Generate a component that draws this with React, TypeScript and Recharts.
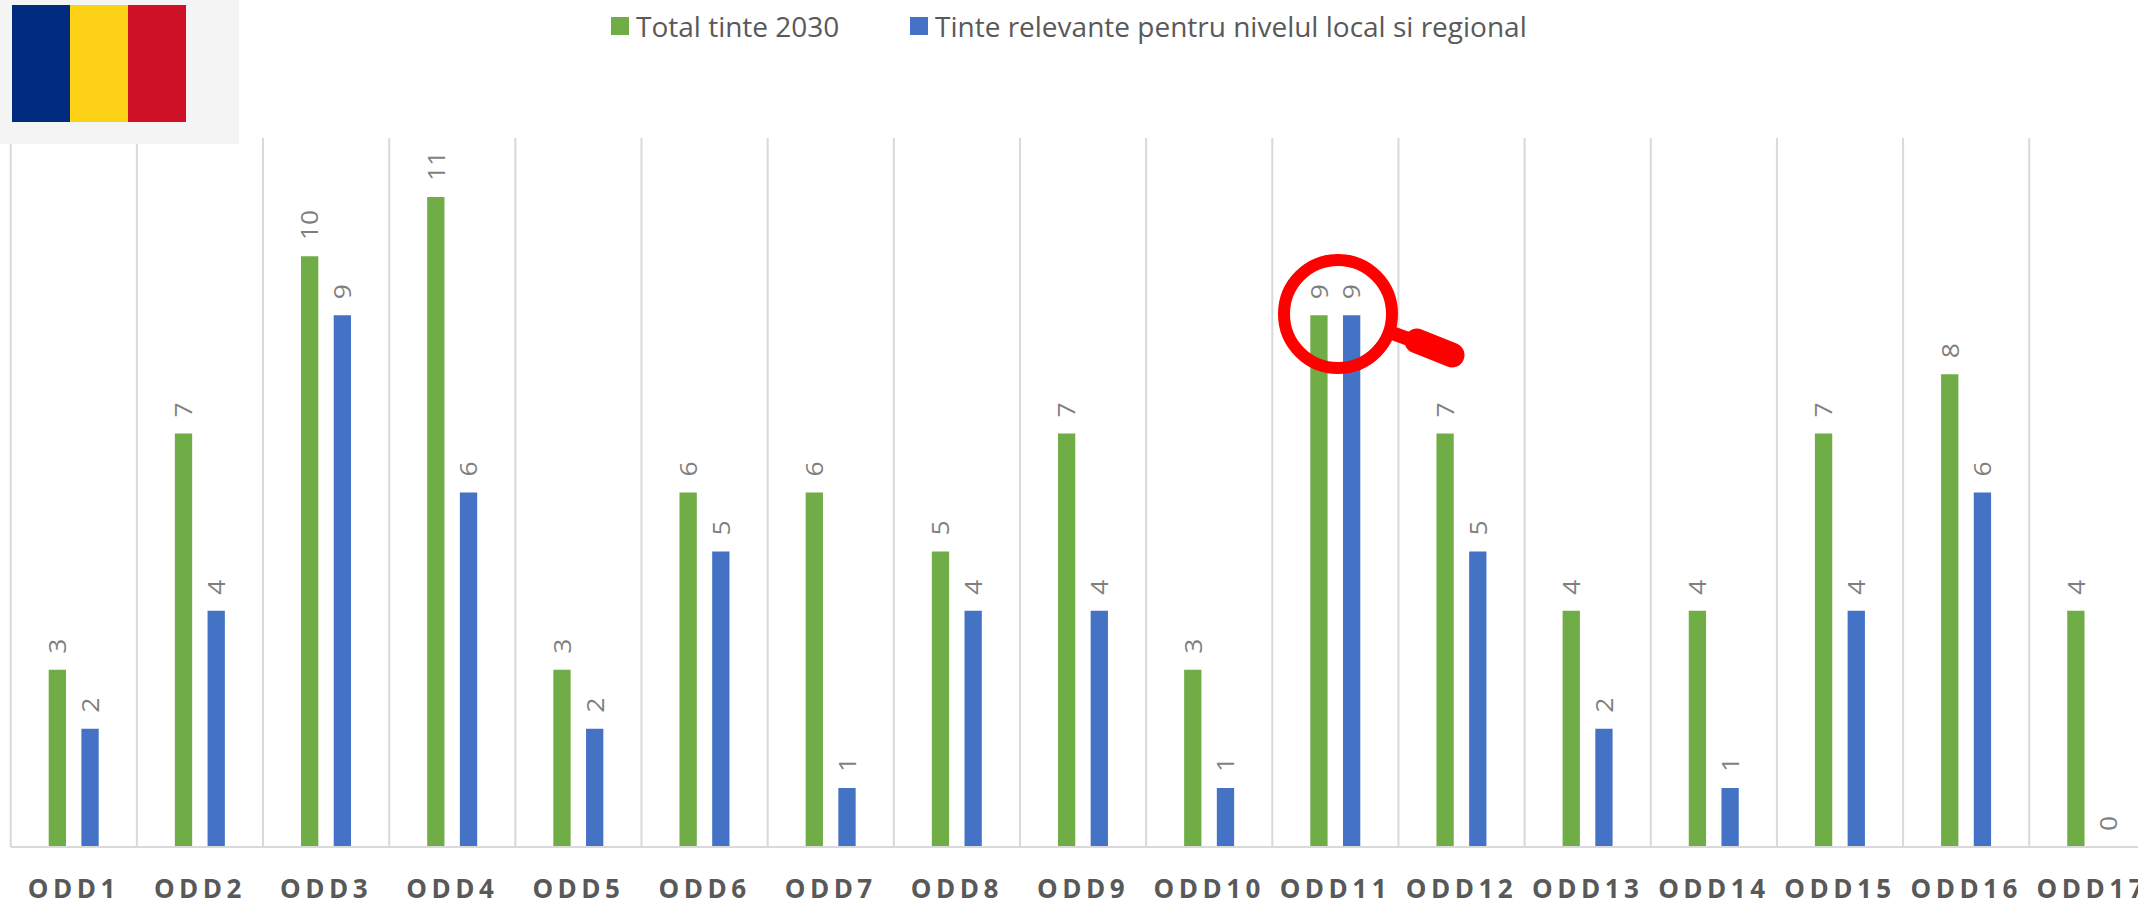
import { BarChart, Bar, XAxis, YAxis, CartesianGrid, Legend, LabelList, ReferenceDot } from 'recharts';

const categories = ['ODD1', 'ODD2', 'ODD3', 'ODD4', 'ODD5', 'ODD6', 'ODD7', 'ODD8', 'ODD9', 'ODD10', 'ODD11', 'ODD12', 'ODD13', 'ODD14', 'ODD15', 'ODD16', 'ODD17'];
const totalTargets = [3, 7, 10, 11, 3, 6, 6, 5, 7, 3, 9, 7, 4, 4, 7, 8, 4];
const relevantTargets = [2, 4, 9, 6, 2, 5, 1, 4, 4, 1, 9, 5, 2, 1, 4, 6, 0];
const totalName = 'Total tinte 2030';
const relevantName = 'Tinte relevante pentru nivelul local si regional';

const GREEN = '#70AD47';
const BLUE = '#4472C4';
const GRID = '#D9D9D9';
const FONT = '"Open Sans", sans-serif';
const BAR_SIZE = 17.3;
const BAR_GAP = 15.4;

const data = categories.map((name, i) => ({
  name,
  total: totalTargets[i],
  relevant: relevantTargets[i],
}));

function ValueLabel(props: any) {
  const { x, y, width, value } = props;
  const cx = x + width / 2;
  const by = y - 16;
  return (
    <text
      transform={`translate(${cx} ${by}) rotate(-90) scale(1.15 1)`}
      textAnchor="start"
      dominantBaseline="central"
      fill="#7F7F7F"
      fontFamily={FONT}
      fontSize={23}
    >
      {value}
    </text>
  );
}

function OddTick(props: any) {
  const { x, y, payload } = props;
  return (
    <text
      x={x}
      y={y + 43}
      textAnchor="middle"
      fill="#595959"
      fontFamily={FONT}
      fontSize={26}
      fontWeight={700}
      style={{ letterSpacing: 4.5 }}
    >
      {payload.value}
    </text>
  );
}

function TopLegend() {
  const items = [
    { label: totalName, color: GREEN, left: 611 },
    { label: relevantName, color: BLUE, left: 910 },
  ];
  return (
    <div style={{ position: 'relative', width: 1000, height: 52 }}>
      {items.map((item) => (
        <div key={item.label} style={{ position: 'absolute', left: item.left, top: 0, display: 'flex', alignItems: 'center', height: 52, whiteSpace: 'nowrap' }}>
          <span style={{ width: 18, height: 18, background: item.color, marginRight: 7 }} />
          <span style={{ fontFamily: FONT, fontSize: 28, color: '#595959' }}>{item.label}</span>
        </div>
      ))}
    </div>
  );
}

export default function App() {
  return (
    <div style={{ position: 'absolute', left: 0, top: 0, width: 2138, height: 902, overflow: 'hidden', background: '#fff' }}>
      <BarChart
        width={2160}
        height={902}
        data={data}
        barSize={BAR_SIZE}
        barGap={BAR_GAP}
        margin={{ top: 86, right: 4.6, bottom: 0, left: 10.7 }}
      >
        <CartesianGrid
          horizontal={false}
          stroke={GRID}
          strokeWidth={2}
          verticalCoordinatesGenerator={({ offset }: any) =>
            [...categories, ''].map((_, i) => offset.left + (i * offset.width) / categories.length)
          }
        />
        <XAxis dataKey="name" interval={0} height={55} tickLine={false} axisLine={{ stroke: GRID, strokeWidth: 2 }} tick={<OddTick />} />
        <YAxis hide domain={[0, 12]} />
        <Legend
          layout="vertical"
          align="center"
          verticalAlign="top"
          content={<TopLegend />}
          wrapperStyle={{ left: 0, top: 0, width: 2000, height: 52 }}
        />
        <Bar dataKey="total" name={totalName} fill={GREEN} isAnimationActive={false}>
          <LabelList dataKey="total" content={<ValueLabel />} />
        </Bar>
        <Bar dataKey="relevant" name={relevantName} fill={BLUE} isAnimationActive={false}>
          <LabelList dataKey="relevant" content={<ValueLabel />} />
        </Bar>
        {/* recharts drops the label of a zero-height bar, so those get a reference dot */}
        {data
          .filter((d) => d.relevant === 0)
          .map((d) => (
            <ReferenceDot
              key={d.name}
              x={d.name}
              y={d.relevant}
              ifOverflow="visible"
              shape={(p: any) => (
                <ValueLabel x={p.cx + BAR_GAP / 2} y={p.cy} width={BAR_SIZE} value={String(d.relevant)} />
              )}
            />
          ))}
      </BarChart>

      {/* flag panel */}
      <div style={{ position: 'absolute', left: 0, top: 0, width: 239, height: 144, background: '#F4F4F4' }}>
        <div style={{ position: 'absolute', left: 12, top: 5, height: 117, display: 'flex' }}>
          <div style={{ width: 58, background: '#002B7F' }} />
          <div style={{ width: 58, background: '#FCD116' }} />
          <div style={{ width: 58, background: '#CE1126' }} />
        </div>
      </div>

      {/* magnifier over ODD11 */}
      <svg width={2138} height={902} style={{ position: 'absolute', left: 0, top: 0, pointerEvents: 'none' }}>
        <circle cx={1338} cy={314} r={54} fill="none" stroke="#FF0000" strokeWidth={12} />
        <line x1={1392} y1={333} x2={1417} y2={342} stroke="#FF0000" strokeWidth={14} />
        <line x1={1417} y1={341} x2={1452} y2={355} stroke="#FF0000" strokeWidth={25} strokeLinecap="round" />
      </svg>
    </div>
  );
}
